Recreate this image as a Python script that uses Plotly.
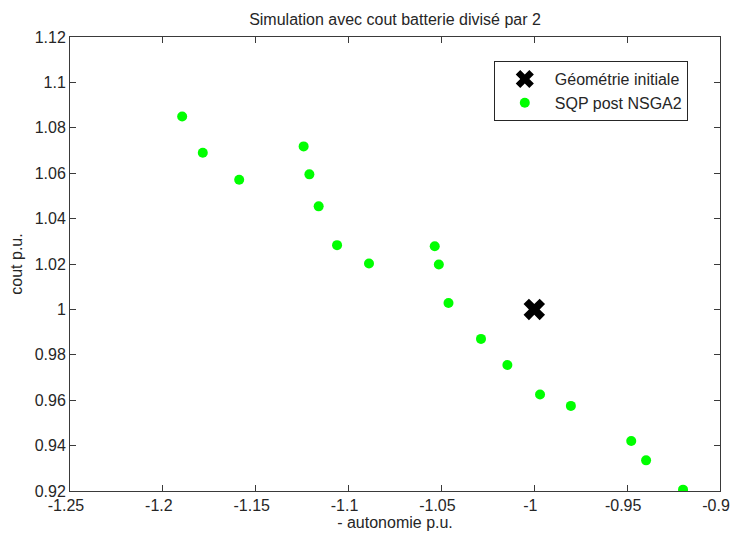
import plotly.graph_objects as go

# Data
init_x = [-1.0]
init_y = [1.0]

sqp_x = [-1.1896, -1.1785, -1.1589, -1.1242, -1.1211, -1.1161, -1.1062, -1.0890,
         -1.0536, -1.0514, -1.0462, -1.0287, -1.0145, -0.9969, -0.9803, -0.9478,
         -0.9398, -0.9199]
sqp_y = [1.0850, 1.0690, 1.0571, 1.0718, 1.0595, 1.0454, 1.0283, 1.0202,
         1.0278, 1.0198, 1.0028, 0.9870, 0.9755, 0.9625, 0.9575, 0.9420,
         0.9335, 0.9206]

x_ticks = [-1.25, -1.2, -1.15, -1.1, -1.05, -1.0, -0.95, -0.9]
x_ticktext = ["-1.25", "-1.2", "-1.15", "-1.1", "-1.05", "-1", "-0.95", "-0.9"]
y_ticks = [0.92, 0.94, 0.96, 0.98, 1.0, 1.02, 1.04, 1.06, 1.08, 1.1, 1.12]
y_ticktext = ["0.92", "0.94", "0.96", "0.98", "1", "1.02", "1.04", "1.06", "1.08", "1.1", "1.12"]

FONT = "Liberation Sans, Arial, sans-serif"
TXT = "#262626"

fig = go.Figure()
fig.add_trace(go.Scatter(
    x=init_x, y=init_y, mode="markers", name="Géométrie initiale",
    marker=dict(symbol="x", size=19, color="black", line=dict(width=0)),
))
fig.add_trace(go.Scatter(
    x=sqp_x, y=sqp_y, mode="markers", name="SQP post NSGA2",
    marker=dict(symbol="circle", size=10, color="#00ff00", line=dict(width=0)),
))

axis_common = dict(
    showgrid=False, zeroline=False, showline=True, linecolor="#3a3a3a", linewidth=1,
    mirror="allticks", ticks="inside", ticklen=6, tickcolor="#3a3a3a", tickwidth=1,
    tickfont=dict(family=FONT, size=16, color=TXT), automargin=False,
    ticklabeloverflow="allow",
)

fig.update_layout(
    width=732, height=536,
    paper_bgcolor="white", plot_bgcolor="white",
    margin=dict(l=70, r=12, t=37, b=45),
    title=dict(text="Simulation avec cout batterie divisé par 2", x=0.5, xanchor="center",
               xref="paper", yref="container",
               y=1 - 19 / 536, yanchor="middle", font=dict(family=FONT, size=16, color=TXT)),
    xaxis=dict(range=[-1.25, -0.9], tickvals=x_ticks, ticktext=x_ticktext,
               ticklabelshift=-4,
               title=dict(text="- autonomie p.u.", font=dict(family=FONT, size=16, color=TXT), standoff=3),
               **axis_common),
    yaxis=dict(range=[0.92, 1.12], tickvals=y_ticks, ticktext=y_ticktext,
               title=dict(text="cout p.u.", font=dict(family=FONT, size=16, color=TXT), standoff=8),
               **axis_common),
    legend=dict(x=0.652, y=0.947, xanchor="left", yanchor="top",
                bordercolor="#262626", borderwidth=1, bgcolor="white",
                font=dict(family=FONT, size=16, color=TXT),
                itemwidth=50, tracegroupgap=0),
    showlegend=True,
)

# remove the browser's default page margin so the figure sits at the window origin
fig.write_html("out.html", config={"displayModeBar": False},
               post_script="document.body.style.margin='0';")
